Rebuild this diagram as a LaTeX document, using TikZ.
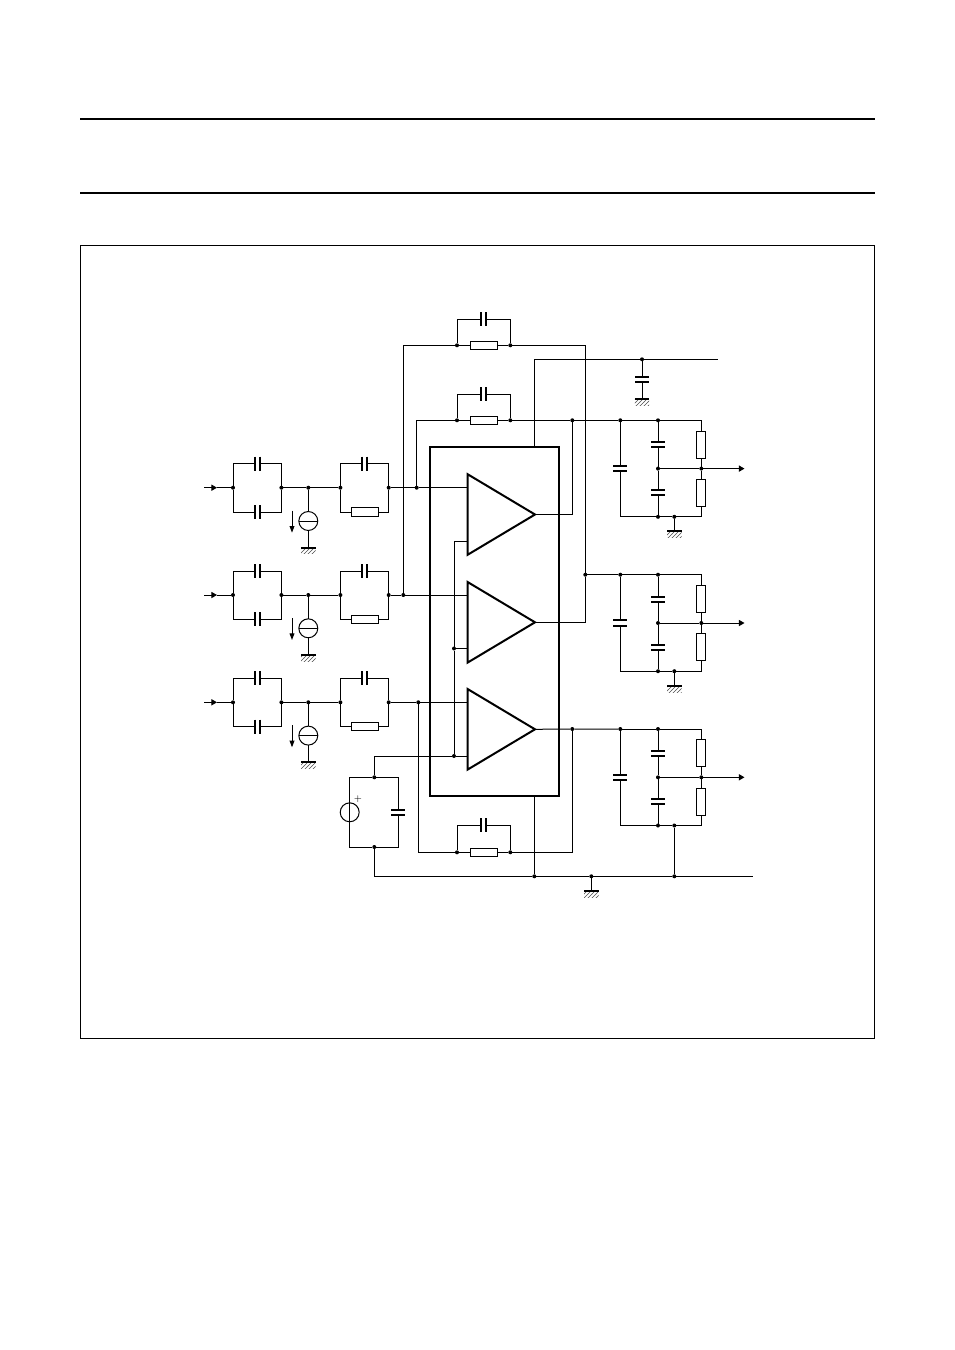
\documentclass[tikz,border=0pt]{standalone}
\usetikzlibrary{arrows.meta,patterns,shapes.geometric}
\tikzset{
  junction/.style={fill, circle, inner sep=0pt, outer sep=0pt, minimum size=3pt},
  plate/.style={line width=1.5pt},
  caph/.style={rectangle, inner sep=0pt, outer sep=0pt, minimum width=3.6pt, minimum height=10.5pt,
    append after command={(\tikzlastnode.north west) edge[plate] (\tikzlastnode.south west)
      (\tikzlastnode.north east) edge[plate] (\tikzlastnode.south east)}},
  capv/.style={rectangle, inner sep=0pt, outer sep=0pt, minimum width=10.5pt, minimum height=3.9pt,
    append after command={(\tikzlastnode.north west) edge[plate] (\tikzlastnode.north east)
      (\tikzlastnode.south west) edge[plate] (\tikzlastnode.south east)}},
  resh/.style={draw, rectangle, inner sep=0pt, outer sep=0pt, minimum width=20.5pt, minimum height=6.3pt},
  resv/.style={draw, rectangle, inner sep=0pt, outer sep=0pt, minimum width=6.5pt, minimum height=20.3pt},
  isrc/.style={draw, circle, inner sep=0pt, outer sep=0pt, minimum size=14.2pt,
    append after command={(\tikzlastnode.west) edge (\tikzlastnode.east)}},
  vsrc/.style={draw, circle, inner sep=0pt, outer sep=0pt, minimum size=14.2pt,
    append after command={(\tikzlastnode.north) edge (\tikzlastnode.south)}},
  gnd/.style={rectangle, inner sep=0pt, outer sep=0pt, anchor=north, minimum width=10.8pt, minimum height=4.6pt,
    pattern=north east lines, pattern color=black!70,
    append after command={(\tikzlastnode.north west) edge[plate] (\tikzlastnode.north east)}},
  amp/.style={draw, line width=1.5pt, isosceles triangle, isosceles triangle stretches, shape border rotate=0,
    inner sep=0pt, outer sep=0pt, minimum width=60.5pt, minimum height=50.6pt, anchor=apex, miter limit=10},
  chip/.style={draw, line width=1.5pt, rectangle, inner sep=0pt, outer sep=0pt, minimum width=96.75pt, minimum height=261.75pt},
  tipin/.style={-{Triangle[length=4.2pt,width=4.6pt]}},
  tipdown/.style={-{Triangle[length=5pt,width=3.6pt]}},
}
\newcommand{\inrow}[2]{
  \coordinate (#1i) at (204,#2);
  \coordinate (#1m) at (217,#2);
  \node[junction] (#1j1) at (233,#2) {};
  \node[junction] (#1j2) at (281.4,#2) {};
  \node[junction] (#1j3) at (308.3,#2) {};
  \node[junction] (#1j4) at (340.4,#2) {};
  \node[junction] (#1j5) at (388.7,#2) {};
  \node[caph] (#1c1) at (257.3,#2-24) {};
  \node[caph] (#1c2) at (257.3,#2+24.3) {};
  \node[caph] (#1c3) at (364.5,#2-24) {};
  \node[resh] (#1r) at (365,#2+24.3) {};
  \node[isrc] (#1s) at (308.3,#2+33.3) {};
  \node[gnd] (#1g) at (308.3,#2+60) {};
  \coordinate (#1p) at (292,#2+23);
  \coordinate (#1q) at (292,#2+45);
  \draw[tipin] (#1i) -- (#1m);
  \draw (#1m) -- (#1j1);
  \draw (#1j2) -- (#1j3) -- (#1j4);
  \draw (#1j1) |- (#1c1) -| (#1j2);
  \draw (#1j1) |- (#1c2) -| (#1j2);
  \draw (#1j4) |- (#1c3) -| (#1j5);
  \draw (#1j4) |- (#1r) -| (#1j5);
  \draw (#1j3) -- (#1s) -- (#1g);
  \draw[tipdown] (#1p) -- (#1q);
}
\newcommand{\fbloop}[3]{
  \node[junction] (#1j1) at (457,#2) {};
  \node[junction] (#1j2) at (510.3,#2) {};
  \node[resh] (#1r) at (484,#2) {};
  \node[caph] (#1c) at (483.8,#3) {};
  \draw (#1j1) -- (#1r) -- (#1j2);
  \draw (#1j1) |- (#1c) -| (#1j2);
}
\newcommand{\outnet}[2]{
  \node[junction] (#1j1) at (620.3,#2) {};
  \node[junction] (#1j2) at (658,#2) {};
  \coordinate (#1t) at (701.3,#2);
  \node[capv] (#1c1) at (620.3,#2+48.3) {};
  \node[capv] (#1c2) at (658,#2+24.5) {};
  \node[capv] (#1c3) at (658,#2+72.5) {};
  \node[junction] (#1o1) at (658,#2+48.3) {};
  \node[junction] (#1o2) at (701.3,#2+48.3) {};
  \coordinate (#1o3) at (744.5,#2+48.3);
  \node[resv] (#1r1) at (701.3,#2+24.3) {};
  \node[resv] (#1r2) at (701.3,#2+72.6) {};
  \coordinate (#1b1) at (620.3,#2+96.5);
  \node[junction] (#1b2) at (658,#2+96.5) {};
  \node[junction] (#1b3) at (674.3,#2+96.5) {};
  \coordinate (#1b4) at (701.3,#2+96.5);
  \draw (#1j1) -- (#1j2) -- (#1t) -- (#1r1) -- (#1o2) -- (#1r2) -- (#1b4) -- (#1b3) -- (#1b2) -- (#1b1) -- (#1c1) -- (#1j1);
  \draw (#1j2) -- (#1c2) -- (#1o1) -- (#1c3) -- (#1b2);
  \draw (#1o1) -- (#1o2);
  \draw[tipin] (#1o2) -- (#1o3);
}

\begin{document}
\begin{tikzpicture}[x=0.75pt, y=-0.75pt, line width=0.75pt]
  \useasboundingbox (0,0) rectangle (954,1350);

  \coordinate (ruleal) at (80,119);
  \coordinate (ruleas) at (875,119);
  \coordinate (rulebl) at (80,193);
  \coordinate (rulebs) at (875,193);
  \draw[line width=1.5pt] (ruleal) -- (ruleas);
  \draw[line width=1.5pt] (rulebl) -- (rulebs);
  \coordinate (framea) at (80.5,245.5);
  \coordinate (frameb) at (874.5,1038.5);
  \draw (framea) rectangle (frameb);

  \inrow{a}{487.7}
  \inrow{b}{595}
  \inrow{c}{702.3}

  \node[chip] (ic) at (494.5,621.5) {};
  \node[amp] (ampa) at (535,514.5) {};
  \node[amp] (ampb) at (535,622.3) {};
  \node[amp] (ampc) at (535,729.3) {};
  \coordinate (ampap) at (467.5,487.7);
  \coordinate (ampam) at (467.5,541);
  \coordinate (ampbp) at (467.5,595);
  \coordinate (ampbm) at (467.5,648.5);
  \coordinate (ampcp) at (467.5,702.3);
  \coordinate (ampcm) at (467.5,756);

  \fbloop{fa}{345.3}{319.3}
  \fbloop{fb}{420.3}{394.3}
  \fbloop{fc}{852.3}{825.3}

  \outnet{na}{420.3}
  \outnet{nb}{574.7}
  \outnet{nc}{729}

  \node[junction] (ja) at (416.7,487.7) {};
  \node[junction] (jb) at (403.3,595) {};
  \node[junction] (jc) at (418.3,702.3) {};
  \draw (aj5) -- (ja) -- (ampap);
  \draw (bj5) -- (jb) -- (ampbp);
  \draw (cj5) -- (jc) -- (ampcp);
  \draw (ja) |- (fbj1);
  \draw (jb) |- (faj1);
  \draw (jc) |- (fcj1);

  \node[junction] (joa) at (572.3,420.3) {};
  \node[junction] (job) at (585.3,574.7) {};
  \node[junction] (joc) at (572.3,729) {};
  \draw (fbj2) -- (joa) -- (naj1);
  \draw (joa) |- (ampa.apex);
  \draw (faj2) -| (job);
  \draw (job) |- (ampb.apex);
  \draw (job) -- (nbj1);
  \draw (ampc.apex) -- (joc) -- (ncj1);
  \draw (fcj2) -| (joc);

  \node[junction] (jxa) at (454,648.5) {};
  \node[junction] (jxb) at (454,756) {};
  \node[junction] (jsa) at (374.3,777.3) {};
  \node[junction] (jsb) at (374.3,847) {};
  \node[vsrc] (vs) at (349.7,812.3) {};
  \node[capv] (cs) at (398.3,812.5) {};
  \node[inner sep=0pt] (vsplus) at (358,799.3) {\scriptsize +};
  \draw (ampam) -| (jxa) -- (jxb);
  \draw (ampbm) -- (jxa);
  \draw (ampcm) -- (jxb) -| (jsa);
  \draw (jsa) -| (vs);
  \draw (jsa) -| (cs);
  \draw (vs) |- (jsb);
  \draw (cs) |- (jsb);

  \coordinate (vcca) at (534.3,447);
  \node[junction] (vccb) at (642,359.3) {};
  \coordinate (vccc) at (718,359.3);
  \node[capv] (vcccap) at (642,379.2) {};
  \node[gnd] (vccgnd) at (642,399) {};
  \draw (vcca) |- (vccb) -- (vccc);
  \draw (vccb) -- (vcccap) -- (vccgnd);

  \node[gnd] (naground) at (674.3,531.3) {};
  \node[gnd] (nbground) at (674.3,686) {};
  \draw (nab3) -- (naground);
  \draw (nbb3) -- (nbground);

  \coordinate (gnda) at (534.3,796);
  \node[junction] (gndb) at (534.3,876.3) {};
  \node[junction] (gndc) at (591.3,876.3) {};
  \node[junction] (gndd) at (674.3,876.3) {};
  \coordinate (gnde) at (752.7,876.3);
  \node[gnd] (gndmain) at (591.3,891) {};
  \draw (jsb) |- (gndb) -- (gndc) -- (gndd) -- (gnde);
  \draw (gnda) -- (gndb);
  \draw (gndc) -- (gndmain);
  \draw (ncb3) -- (gndd);
\end{tikzpicture}
\end{document}
